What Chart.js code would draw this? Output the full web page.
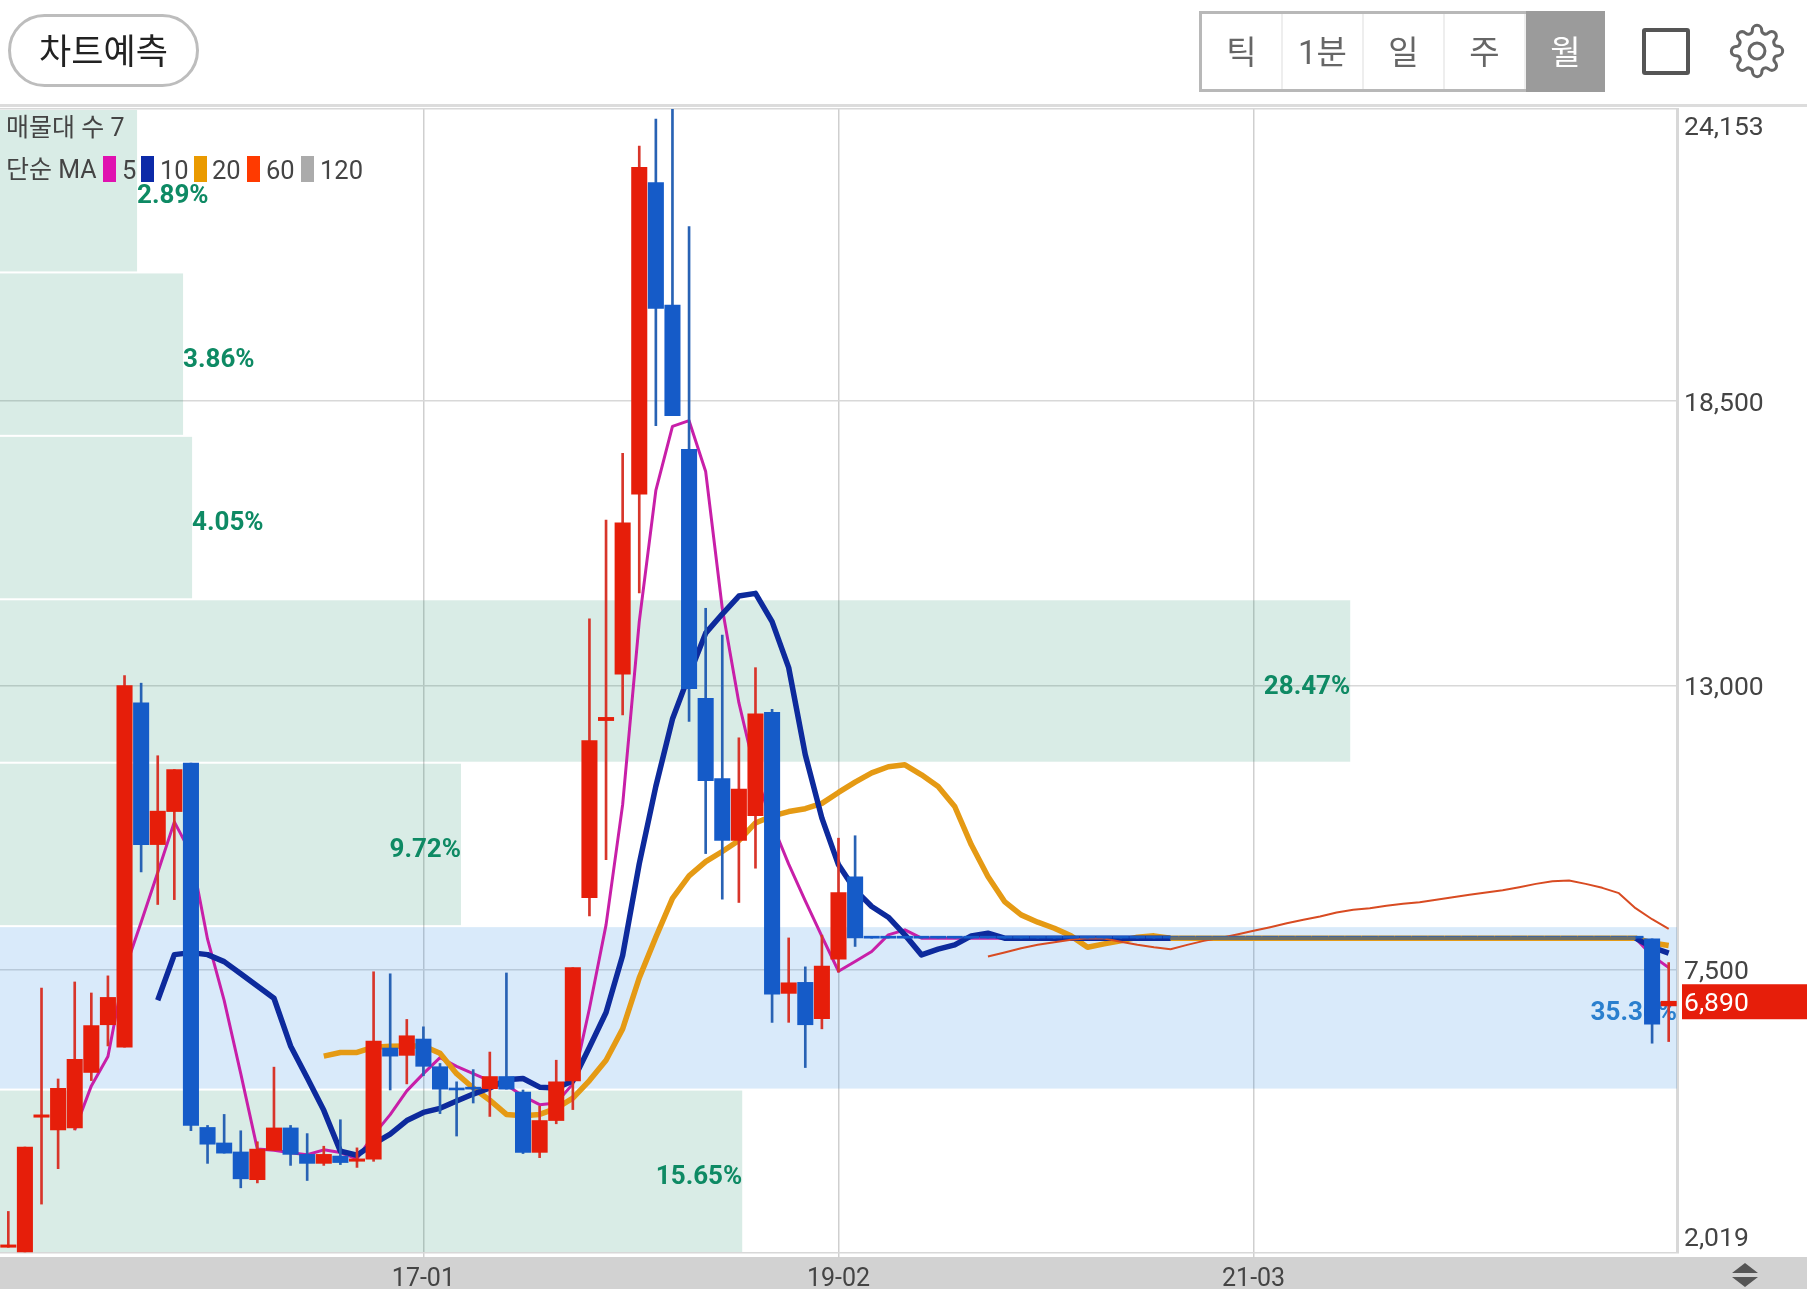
<!DOCTYPE html>
<html lang="ko">
<head>
<meta charset="utf-8">
<title>월봉 차트</title>
<script src="https://cdn.jsdelivr.net/npm/chart.js@4/dist/chart.umd.min.js"></script>
<style>
  html, body { margin: 0; padding: 0; background: #fff; width: 1807px; height: 1289px; overflow: hidden; }
  body { font-family: Roboto, "Noto Sans CJK KR", sans-serif; position: relative; }
  canvas { position: absolute; left: 0; top: 0; }
  .abs { position: absolute; }
  #btnPredict { left: 8px; top: 14px; width: 191px; height: 73px; box-sizing: border-box; border: 3px solid #bdbdbd; border-radius: 37px;
    font: 35px "Noto Sans CJK KR", sans-serif; color: #222; text-align: center; line-height: 64px; }
  #periods { left: 1199px; top: 11px; width: 406px; height: 81px; box-sizing: border-box; border: 3px solid #b8b8b8; display: flex; }
  #periods div { flex: 1; text-align: center; font: 33px/78px Roboto, "Noto Sans CJK KR", sans-serif; color: #666; border-right: 2px solid #eee; }
  #periods div.on { background: #9b9b9b; color: #fff; border-right: 0; margin: -3px -3px -3px 0; line-height: 84px; }
  #fullBox { left: 1642px; top: 28px; width: 48px; height: 47px; box-sizing: border-box; border: 4px solid #555; border-radius: 3px; }
  #headLine { left: 0; top: 104px; width: 1807px; height: 3px; background: #dcdcdc; }
  .lg { position: absolute; font-size: 25.5px; color: #444; line-height: 30px; white-space: nowrap; }
  .lg.name { font-size: 25px; }
  .sw { position: absolute; top: 156px; width: 13px; height: 26px; }
</style>
</head>
<body>
<canvas id="chart" width="1807" height="1289"></canvas>

<div class="abs" id="btnPredict">차트예측</div>
<div class="abs" id="periods"><div>틱</div><div>1분</div><div>일</div><div>주</div><div class="on">월</div></div>
<div class="abs" id="fullBox"></div>
<svg class="abs" style="left:1729px;top:23px" width="56" height="56" viewBox="0 0 24 24" fill="none" stroke="#666" stroke-width="1.3">
  <circle cx="12" cy="12" r="3.4"/>
  <path d="M19.4 15a1.65 1.65 0 0 0 .33 1.82l.06.06a2 2 0 0 1 0 2.83 2 2 0 0 1-2.83 0l-.06-.06a1.65 1.65 0 0 0-1.82-.33 1.65 1.65 0 0 0-1 1.51V21a2 2 0 0 1-2 2 2 2 0 0 1-2-2v-.09A1.65 1.65 0 0 0 9 19.4a1.65 1.65 0 0 0-1.82.33l-.06.06a2 2 0 0 1-2.83 0 2 2 0 0 1 0-2.83l.06-.06a1.65 1.65 0 0 0 .33-1.82 1.65 1.65 0 0 0-1.51-1H3a2 2 0 0 1-2-2 2 2 0 0 1 2-2h.09A1.65 1.65 0 0 0 4.6 9a1.65 1.65 0 0 0-.33-1.82l-.06-.06a2 2 0 0 1 0-2.83 2 2 0 0 1 2.83 0l.06.06a1.65 1.65 0 0 0 1.82.33H9a1.65 1.65 0 0 0 1-1.51V3a2 2 0 0 1 2-2 2 2 0 0 1 2 2v.09a1.65 1.65 0 0 0 1 1.51 1.65 1.65 0 0 0 1.82-.33l.06-.06a2 2 0 0 1 2.83 0 2 2 0 0 1 0 2.83l-.06.06a1.65 1.65 0 0 0-.33 1.82V9a1.65 1.65 0 0 0 1.51 1H21a2 2 0 0 1 2 2 2 2 0 0 1-2 2h-.09a1.65 1.65 0 0 0-1.51 1z"/>
</svg>
<div class="abs" id="headLine"></div>

<div class="lg name" style="left:6px;top:113px">매물대 수 7</div>
<div class="lg name" style="left:6px;top:155px">단순 MA</div>
<div class="sw" style="left:103px;background:#e011b0"></div><div class="lg" style="left:122px;top:155px">5</div>
<div class="sw" style="left:141px;background:#0c2aa8"></div><div class="lg" style="left:160px;top:155px">10</div>
<div class="sw" style="left:194px;background:#ea9a00"></div><div class="lg" style="left:212px;top:155px">20</div>
<div class="sw" style="left:247px;background:#ff3a00"></div><div class="lg" style="left:266px;top:155px">60</div>
<div class="sw" style="left:301px;background:#ababab"></div><div class="lg" style="left:320px;top:155px">120</div>

<svg class="abs" style="left:1731px;top:1263px" width="28" height="24" viewBox="0 0 28 24">
  <path d="M14 0 L27 10 L1 10 Z M1 14 L27 14 L14 24 Z" fill="#555"/>
</svg>

<script>
// ==========================================
// 데이터
// ==========================================

const categories = [
  '14-12',
  '15-01','15-02','15-03','15-04','15-05','15-06','15-07','15-08','15-09','15-10','15-11','15-12',
  '16-01','16-02','16-03','16-04','16-05','16-06','16-07','16-08','16-09','16-10','16-11','16-12',
  '17-01','17-02','17-03','17-04','17-05','17-06','17-07','17-08','17-09','17-10','17-11','17-12',
  '18-01','18-02','18-03','18-04','18-05','18-06','18-07','18-08','18-09','18-10','18-11','18-12',
  '19-01','19-02','19-03','19-04','19-05','19-06','19-07','19-08','19-09','19-10','19-11','19-12',
  '20-01','20-02','20-03','20-04','20-05','20-06','20-07','20-08','20-09','20-10','20-11','20-12',
  '21-01','21-02','21-03','21-04','21-05','21-06','21-07','21-08','21-09','21-10','21-11','21-12',
  '22-01','22-02','22-03','22-04','22-05','22-06','22-07','22-08','22-09','22-10','22-11','22-12',
  '23-01','23-02','23-03','23-04'
];
const xTickLabels = ['17-01', '19-02', '21-03'];
const yTickValues = [2019, 7500, 13000, 18500, 24153];
const lastPrice = 6890;

const opens = [
  2130,2040,4646,4400,4439,5512,6435,6001,12665,9921,10560,11500,4448,4148,3974,3438,4006,4439,3927,3753,
  3895,3794,3832,5985,5843,6159,5623,5173,5189,5197,5433,5134,3966,4582,5347,8896,12320,13220,16701,22730,
  20360,17570,12750,11199,10000,10481,12480,7042,7255,6553,7705,9298,
  8110,8110,8110,8110,8110,8110,8110,8110,8110,8110,
  8110,8110,8110,8110,8110,8110,8110,8110,8110,8110,
  8110,8110,8110,8110,8110,8110,8110,8110,8110,8110,
  8110,8110,8110,8110,8110,8110,8110,8110,8110,8110,
  8110,8110,8110,8110,8110,8110,8110,
  8097,6800
];
const closes = [
  2176,4069,4692,5205,5765,6419,6964,12995,9921,10568,11372,4487,4124,3951,3454,4029,4439,3927,3753,3927,
  3769,3840,6120,5828,6222,5631,5189,5173,5189,5433,5189,3966,4582,5331,7539,11935,12382,16145,23026,20293,
  18219,12938,11159,10000,10994,12453,7027,7247,6435,7571,8990,8115,
  8110,8110,8110,8110,8110,8110,8110,8110,8110,8110,
  8110,8110,8110,8110,8110,8110,8110,8110,8110,8110,
  8110,8110,8110,8110,8110,8110,8110,8110,8110,8110,
  8110,8110,8110,8110,8110,8110,8110,8110,8110,8110,
  8110,8110,8110,8110,8110,8110,8110,
  6446,6890
];
const highs = [
  2823,4069,7145,5386,7263,7050,7381,13190,13044,11640,11372,11500,4487,4700,4384,4171,5615,4487,4329,4085,
  4597,4053,7460,7421,6538,6395,5686,5331,5567,5907,7437,5173,4858,5749,7539,14291,16200,17493,23434,23960,
  24153,21878,14493,13975,11987,13344,12540,8115,7555,8170,10045,10092,
  8110,8110,8110,8110,8110,8110,8110,8110,8110,8110,
  8110,8110,8110,8110,8110,8110,8110,8110,8110,8110,
  8110,8110,8110,8110,8110,8110,8110,8110,8110,8110,
  8110,8110,8110,8110,8110,8110,8110,8110,8110,8110,
  8110,8110,8110,8110,8110,8110,8110,
  8097,7638
];
const lows = [
  2130,2040,2965,3651,4400,5355,6025,6001,9392,8762,8856,4384,3753,3951,3280,3375,4006,3714,3422,3714,
  3730,3675,3793,5173,5291,5449,4716,4282,4921,4661,5189,3943,3864,4519,4794,8542,9629,12429,14790,18027,
  18219,12303,9747,8864,8801,9464,6482,6482,5607,6356,7455,7950,
  8110,8110,8110,8110,8110,8110,8110,8110,8110,8110,
  8110,8110,8110,8110,8110,8110,8110,8110,8110,8110,
  8110,8110,8110,8110,8110,8110,8110,8110,8110,8110,
  8110,8110,8110,8110,8110,8110,8110,8110,8110,8110,
  8110,8110,8110,8110,8110,8110,8110,
  6078,6110
];

const ma5 = [
  null,null,null,null,
  4400,5252,5820,7480,8420,9380,10360,9750,8091,6908,5489,4029,4006,3960,3920,4015,3963,3843,4305,4697,5156,5490,5800,
  5630,5488,5347,5268,5055,4889,4921,5291,6750,8367,10694,14234,16775,18012,18123,17138,14493,12666,11309,10327,9544,
  8831,8146,7470,7658,7852,8174,8271,
  8110,8110,8110,8110,8110,8110,8110,8110,8110,8110,8110,8110,8110,8110,8110,8110,8110,8110,8110,8110,8110,8110,
  8110,8110,8110,8110,8110,8110,8110,8110,8110,8110,8110,8110,8110,8110,8110,8110,8110,8110,8110,8110,8110,8110,
  7770,7540
];
const ma10 = [
  null,null,null,null,null,null,null,null,null,
  6908,7792,7831,7792,7657,7421,7184,6948,6025,5410,4779,3990,3911,4132,4321,4582,4739,4818,4960,5094,5212,5370,5394,
  5228,5212,5347,5999,6672,7776,9550,11049,12350,13200,14012,14382,14730,14782,14234,13345,11658,10432,9529,9045,8723,
  8516,8174,7787,7897,7981,8155,8207,
  8110,8110,8110,8110,8110,8110,8110,8110,8110,8110,8110,8110,8110,8110,8110,8110,8110,8110,8110,8110,
  8110,8110,8110,8110,8110,8110,8110,8110,8110,8110,8110,8110,8110,8110,8110,8110,8110,8110,8110,
  7935,7820
];
const ma20 = [
  null,null,null,null,null,null,null,null,null,null,null,null,null,null,null,null,null,null,null,
  5828,5899,5899,6001,6017,6025,6025,5883,5489,5212,4976,4700,4676,4700,4818,5015,5355,5749,6356,7342,8131,8880,9314,
  9590,9787,10000,10339,10473,10560,10615,10718,10930,11128,11309,11427,11465,11271,11045,10658,9916,9303,8819,8561,
  8420,8303,8155,7935,8000,8058,8129,8155,
  8110,8110,8110,8110,8110,8110,8110,8110,8110,8110,8110,8110,8110,8110,8110,8110,8110,8110,8110,8110,
  8110,8110,8110,8110,8110,8110,8110,8110,8110,
  8017,7970
];
const ma60 = [
  null,null,null,null,null,null,null,null,null,null,null,null,null,null,null,null,null,null,null,null,
  null,null,null,null,null,null,null,null,null,null,null,null,null,null,null,null,null,null,null,null,
  null,null,null,null,null,null,null,null,null,null,null,null,null,null,null,null,null,null,null,
  7755,7832,7916,7981,8032,8078,8110,8103,8039,7981,7935,7897,7981,8058,8116,8181,8252,8323,8400,8465,8529,8607,
  8658,8690,8736,8774,8807,8852,8903,8949,8994,9039,9097,9161,9213,9226,9161,9084,8981,8690,8477,8290
];
const ma120 = [
  null,null,null,null,null,null,null,null,null,null,null,null,null,null,null,null,null,null,null,null,
  null,null,null,null,null,null,null,null,null,null,null,null,null,null,null,null,null,null,null,null,
  null,null,null,null,null,null,null,null,null,null,null,null,null,null,null,null,null,null,null,null,
  null,null,null,null,null,null,null,null,null,null,
  8110,8110,8110,8110,8110,8110,8110,8110,8110,8110,8110,8110,8110,8110,8110,8110,8110,8110,8110,8110,
  8110,8110,8110,8110,8110,8110,8110,8110,8110,
  null,null
];

// 매물대: 7개 구간 경계와 거래 비중(%)
const bandEdges = [24153, 20991, 17829, 14667, 11505, 8343, 5181, 2019];
const bandPct = [2.89, 3.86, 4.05, 28.47, 9.72, 35.36, 15.65];
const bandPeak = 35.36;

// ==========================================
// 색상
// ==========================================

const RED = '#e61e0a', BLUE = '#155bc8', WICK_RED = '#d8352a', WICK_BLUE = '#2862b4';
const isUp = i => closes[i] > opens[i];

// ==========================================
// 플러그인: 매물대 / 라벨 / 하단 바
// ==========================================

const decorPlugin = {
  id: 'decor',
  beforeDraw(chart) {
    const { ctx, width, height } = chart;
    ctx.save();
    ctx.fillStyle = '#d2d2d2';
    ctx.fillRect(0, 1257, width, height - 1257);
    ctx.restore();
  },
  beforeDatasetsDraw(chart) {
    const { ctx, scales } = chart;
    const peak = bandPct.indexOf(bandPeak);
    ctx.save();
    bandPct.forEach((pct, i) => {
      const top = scales.y.getPixelForValue(bandEdges[i]);
      const bottom = scales.y.getPixelForValue(bandEdges[i + 1]);
      const right = scales.xBand.getPixelForValue(pct);
      ctx.fillStyle = i === peak ? 'rgba(20,125,225,0.16)' : 'rgba(0,128,90,0.15)';
      ctx.fillRect(0, top + 1, right, bottom - top - 2);

      // 폭이 좁은 구간은 라벨을 막대 오른쪽에 붙인다
      const text = pct.toFixed(2) + '%';
      ctx.font = 'bold 26px Roboto';
      ctx.textBaseline = 'middle';
      ctx.fillStyle = i === peak ? '#2a7fce' : '#0e8a64';
      ctx.textAlign = pct < 5 ? 'left' : 'right';
      ctx.fillText(text, right, (top + bottom) / 2 + 6);
    });
    ctx.restore();
  },
  afterDraw(chart) {
    const { ctx, scales } = chart;
    ctx.save();
    ctx.font = '26.5px Roboto';
    ctx.textAlign = 'left';
    ctx.textBaseline = 'middle';
    ctx.fillStyle = '#444';
    yTickValues.forEach(v => {
      let y = scales.y.getPixelForValue(v) + 3;
      if (v === yTickValues[0]) y -= 17;
      if (v === yTickValues[yTickValues.length - 1]) y += 16;
      ctx.fillText(v.toLocaleString('en-US'), 1684, y);
    });

    // 현재가 박스
    const py = scales.y.getPixelForValue(lastPrice);
    ctx.fillStyle = RED;
    ctx.fillRect(1682, py - 17, 125, 35);
    ctx.fillStyle = '#fff';
    ctx.fillText(lastPrice.toLocaleString('en-US'), 1684, py + 3);
    ctx.restore();
  }
};

// ==========================================
// 차트
// ==========================================

function maLine(label, data, color, width, order, segment) {
  return {
    type: 'line', label, data, order, segment,
    borderColor: color, borderWidth: width,
    pointRadius: 0, tension: 0, spanGaps: false,
    borderJoinStyle: 'round'
  };
}

// 평탄 구간 뒤쪽은 10선이 20선 아래에 깔린다
const hiddenFlat = { borderColor: c => (c.p0DataIndex >= 70 && c.p1DataIndex <= 98 ? 'transparent' : undefined) };

new Chart(document.getElementById('chart').getContext('2d'), {
  data: {
    labels: categories,
    datasets: [
      maLine('5', ma5, '#c81fa8', 3, 8),
      maLine('20', ma20, '#e59a14', 5.5, 7),
      maLine('10', ma10, '#0d2a9c', 5.5, 6, hiddenFlat),
      maLine('60', ma60, '#d84b22', 2, 5),
      {
        type: 'bar', label: 'wick', order: 3, grouped: false, barThickness: 2,
        data: lows.map((low, i) => [low, highs[i]]),
        backgroundColor: closes.map((c, i) => isUp(i) ? WICK_RED : WICK_BLUE)
      },
      {
        type: 'bar', label: 'body', order: 2, grouped: false, barThickness: 15.4, minBarLength: 2,
        data: opens.map((o, i) => [o, closes[i]]),
        backgroundColor: closes.map((c, i) => isUp(i) ? RED : BLUE)
      },
      maLine('120', ma120, '#6f7068', 3.5, 1)
    ]
  },
  options: {
    responsive: false,
    devicePixelRatio: 1,
    animation: false,
    layout: { padding: { top: 109, left: 0, right: 0, bottom: 0 } },
    plugins: { legend: { display: false }, tooltip: { enabled: false } },
    scales: {
      x: {
        type: 'category',
        offset: true,
        afterBuildTicks: s => { s.ticks = s.ticks.filter(t => xTickLabels.includes(categories[t.value])); },
        afterFit: s => { s.height = 36; },
        ticks: { autoSkip: false, maxRotation: 0, padding: 7, color: '#444', font: { family: 'Roboto', size: 25 } },
        grid: { offset: false, color: '#cfcfcf', lineWidth: 1.5, tickLength: 5 },
        border: { display: false }
      },
      xBand: { type: 'linear', axis: 'x', display: false, min: 0, max: bandPeak },
      y: {
        type: 'linear',
        position: 'right',
        min: yTickValues[0],
        max: yTickValues[yTickValues.length - 1],
        afterBuildTicks: s => { s.ticks = yTickValues.map(value => ({ value })); },
        afterFit: s => { s.width = 130; },
        ticks: { display: false },
        grid: { color: '#d8d8d8', lineWidth: 1.5, drawTicks: false },
        border: { display: true, color: '#d8d8d8', width: 3 }
      }
    }
  },
  plugins: [decorPlugin]
});
</script>
</body>
</html>
